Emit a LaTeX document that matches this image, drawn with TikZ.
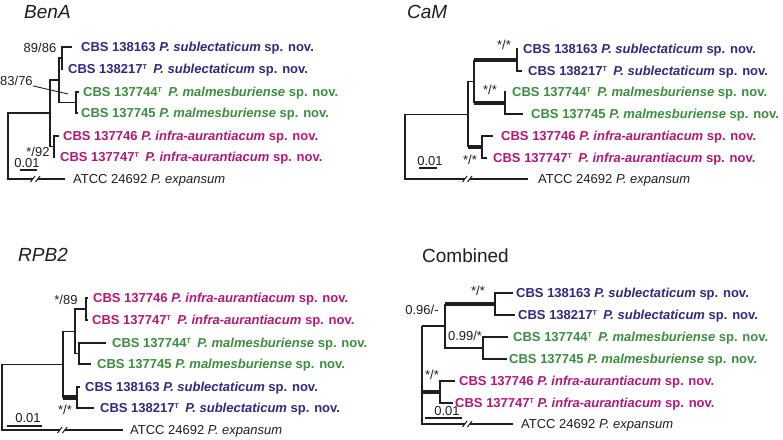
\documentclass[tikz,border=0pt]{standalone}
\usepackage{fontspec}
\setmainfont{Liberation Sans}
\definecolor{cb}{RGB}{45,42,128}
\definecolor{cg}{RGB}{58,142,62}
\definecolor{cm}{RGB}{178,24,120}
\definecolor{ln}{RGB}{30,30,30}
\newcommand\Ts{\raisebox{4pt}{\fontsize{7}{7}\selectfont T}}
\newcommand\sbl{\textit{P. sublectaticum} sp. nov.}
\newcommand\mlm{\textit{P. malmesburiense} sp. nov.}
\newcommand\ifr{\textit{P. infra-aurantiacum} sp. nov.}
\newcommand\atcc{ATCC 24692 \textit{P. expansum}}
\begin{document}
\begin{tikzpicture}[x=1pt,y=-1pt,
  br/.style={line width=1.3pt,draw=ln},
  thk/.style={line width=4.2pt,draw=ln},
  lab/.style={anchor=west,inner sep=0pt,text height=9.4pt,text depth=0pt,font=\bfseries\fontsize{13}{15}\selectfont},
  sbc/.style={lab,text=cb}, mlc/.style={lab,text=cg}, ifc/.style={lab,text=cm},
  ogl/.style={anchor=west,inner sep=0pt,text height=9.4pt,text depth=0pt,font=\fontsize{13}{15}\selectfont,text=ln},
  supp/.style={inner sep=0pt,text height=9.4pt,text depth=0pt,font=\fontsize{13}{15}\selectfont,text=ln},
  ttl/.style={anchor=west,inner sep=0pt,text height=13.6pt,text depth=0pt,font=\fontsize{19}{21}\selectfont,text=ln},
  brk/.style={line width=1pt,draw=ln}]
\useasboundingbox (0,0) rectangle (783,439);

% ================= BenA =================
\node[ttl] (tA) at (24,11.5) {\textit{BenA}};
\coordinate (aR) at (8,146);
\coordinate (aA) at (50,113);
\coordinate (aB) at (59,80);
\coordinate (aC) at (54,146.5);
\coordinate (aD) at (62,58);
\coordinate (aE) at (76,102.5);
\coordinate (a1) at (72,47);
\coordinate (a2) at (63,69);
\coordinate (a3) at (79,92);
\coordinate (a4) at (78,113);
\coordinate (a5) at (59,136);
\coordinate (a6) at (55,157);
\coordinate (aO1) at (33,179);
\coordinate (aO2) at (38,179);
\coordinate (aOt) at (65,179);
\draw[br] (aR) |- (aA);
\draw[br] (aA) |- (aB);
\draw[br] (aA) |- (aC);
\draw[br] (aB) |- (aD);
\draw[br] (aB) |- (aE);
\draw[br] (aD) |- (a1);
\draw[br] (aD) |- (a2);
\draw[br] (aE) |- (a3);
\draw[br] (aE) |- (a4);
\draw[br] (aC) |- (a5);
\draw[br] (aC) |- (a6);
\draw[br] (aR) |- (aO1);
\draw[br] (aO2) -- (aOt);
\draw[brk] ([shift={(-2.5,3)}]aO1) -- ([shift={(2,-3)}]aO1);
\draw[brk] ([shift={(-2.5,3)}]aO2) -- ([shift={(2,-3)}]aO2);
\node[sbc] (aL1) at (81,47) {CBS 138163 \sbl};
\node[sbc] (aL2) at (68,69) {CBS 138217\Ts\hspace{0.5em}\sbl};
\node[mlc] (aL3) at (83,92) {CBS 137744\Ts\hspace{0.5em}\mlm};
\node[mlc] (aL4) at (81,113) {CBS 137745 \mlm};
\node[ifc] (aL5) at (63,136) {CBS 137746 \ifr};
\node[ifc] (aL6) at (60,157) {CBS 137747\Ts\hspace{0.5em}\ifr};
\node[ogl] (aLO) at (73,179) {\atcc};
\node[supp] (aS1) at (40,48) {89/86};
\node[supp,anchor=west] (aS2) at (0,81) {83/76};
\coordinate (aP) at (68,94);
\draw[br,line width=0.9pt] (aS2.south east) -- (aP);
\node[supp] (aS3) at (38,152) {*/92};
\node[supp] (aSc) at (27,163) {0.01};
\coordinate (aB1) at (20,170);
\coordinate (aB2) at (37,170);
\draw[br] (aB1) -- (aB2);

% ================= CaM =================
\node[ttl] (tC) at (407,11.5) {\textit{CaM}};
\coordinate (cR) at (405,146.6);
\coordinate (cA) at (468,114.2);
\coordinate (cB) at (474,81.5);
\coordinate (cC) at (482,147);
\coordinate (cD) at (517,60);
\coordinate (cE) at (505,103);
\coordinate (c1) at (518,49);
\coordinate (c2) at (522,71);
\coordinate (c3) at (506,92);
\coordinate (c4) at (523,114);
\coordinate (c5) at (493,136);
\coordinate (c6) at (487,158);
\coordinate (cO1) at (465,179);
\coordinate (cO2) at (470,179);
\coordinate (cOt) at (528,179);
\draw[br] (cR) |- (cA);
\draw[br] (cA) |- (cB);
\draw[br] (cA) -- (cA |- cC);
\draw[thk] (cA |- cC) -- (cC);
\draw[br] (cB) -- (cB |- cD);
\draw[thk] (cB |- cD) -- (cD);
\draw[br] (cB) -- (cB |- cE);
\draw[thk] (cB |- cE) -- (cE);
\draw[br] (cD) |- (c1);
\draw[br] (cD) |- (c2);
\draw[br] (cE) |- (c3);
\draw[br] (cE) |- (c4);
\draw[br] (cC) |- (c5);
\draw[br] (cC) |- (c6);
\draw[br] (cR) |- (cO1);
\draw[br] (cO2) -- (cOt);
\draw[brk] ([shift={(-2.5,3)}]cO1) -- ([shift={(2,-3)}]cO1);
\draw[brk] ([shift={(-2.5,3)}]cO2) -- ([shift={(2,-3)}]cO2);
\node[sbc] (cL1) at (523,49) {CBS 138163 \sbl};
\node[sbc] (cL2) at (528,71) {CBS 138217\Ts\hspace{0.5em}\sbl};
\node[mlc] (cL3) at (512,92) {CBS 137744\Ts\hspace{0.5em}\mlm};
\node[mlc] (cL4) at (531,114) {CBS 137745 \mlm};
\node[ifc] (cL5) at (501,136) {CBS 137746 \ifr};
\node[ifc] (cL6) at (493,158) {CBS 137747\Ts\hspace{0.5em}\ifr};
\node[ogl] (cLO) at (538,179) {\atcc};
\node[supp] (cS1) at (504,45) {*/*};
\node[supp] (cS2) at (490,90) {*/*};
\node[supp] (cS3) at (470,160) {*/*};
\node[supp] (cSc) at (430,161) {0.01};
\coordinate (cB1) at (419,168);
\coordinate (cB2) at (437,168);
\draw[br] (cB1) -- (cB2);

% ================= RPB2 =================
\node[ttl] (tR) at (18,254.5) {\textit{RPB2}};
\coordinate (rR) at (2,397.2);
\coordinate (rA) at (63,364.4);
\coordinate (rB) at (75,331.2);
\coordinate (rC) at (86,309);
\coordinate (rE) at (79,353.5);
\coordinate (rD) at (77,397.5);
\coordinate (r1) at (88,298);
\coordinate (r2) at (88,320);
\coordinate (r3) at (106,343);
\coordinate (r4) at (91,364);
\coordinate (r5) at (80,387);
\coordinate (r6) at (94,408);
\coordinate (rO1) at (60,430);
\coordinate (rO2) at (65,430);
\coordinate (rOt) at (123,430);
\draw[br] (rR) |- (rA);
\draw[br] (rA) |- (rB);
\draw[br] (rA) -- (rA |- rD);
\draw[thk] (rA |- rD) -- (rD);
\draw[br] (rB) |- (rC);
\draw[br] (rB) |- (rE);
\draw[br] (rC) |- (r1);
\draw[br] (rC) |- (r2);
\draw[br] (rE) |- (r3);
\draw[br] (rE) |- (r4);
\draw[br] (rD) |- (r5);
\draw[br] (rD) |- (r6);
\draw[br] (rR) |- (rO1);
\draw[br] (rO2) -- (rOt);
\draw[brk] ([shift={(-2.5,3)}]rO1) -- ([shift={(2,-3)}]rO1);
\draw[brk] ([shift={(-2.5,3)}]rO2) -- ([shift={(2,-3)}]rO2);
\node[ifc] (rL1) at (93,298) {CBS 137746 \ifr};
\node[ifc] (rL2) at (92,320) {CBS 137747\Ts\hspace{0.5em}\ifr};
\node[mlc] (rL3) at (112,343) {CBS 137744\Ts\hspace{0.5em}\mlm};
\node[mlc] (rL4) at (97,364) {CBS 137745 \mlm};
\node[sbc] (rL5) at (85,387) {CBS 138163 \sbl};
\node[sbc] (rL6) at (100,408) {CBS 138217\Ts\hspace{0.5em}\sbl};
\node[ogl] (rLO) at (130,430) {\atcc};
\node[supp] (rS1) at (66,300) {*/89};
\node[supp] (rS2) at (65,410) {*/*};
\node[supp] (rSc) at (28,418) {0.01};
\coordinate (rB1) at (7,426);
\coordinate (rB2) at (42,426);
\draw[br] (rB1) -- (rB2);

% ================= Combined =================
\node[ttl] (tM) at (422,255.5) {Combined};
\coordinate (mR) at (422,326);
\coordinate (mB) at (445,326);
\coordinate (mC) at (440,392);
\coordinate (mD) at (495,304);
\coordinate (mE) at (483,348);
\coordinate (m1) at (513,293);
\coordinate (m2) at (515,315);
\coordinate (m3) at (508,337);
\coordinate (m4) at (507,359);
\coordinate (m5) at (455,381);
\coordinate (m6) at (453,403);
\coordinate (mO1) at (465,424);
\coordinate (mO2) at (470,424);
\coordinate (mOt) at (513,424);
\draw[br] (mR) -- (mB);
\draw[br] (mR) -- (mR |- mC);
\draw[thk] (mR |- mC) -- (mC);
\draw[br] (mR) |- (mO1);
\draw[br] (mO2) -- (mOt);
\draw[br] (mB) -- (mB |- mD);
\draw[thk] (mB |- mD) -- (mD);
\draw[br] (mB) |- (mE);
\draw[br] (mD) |- (m1);
\draw[br] (mD) |- (m2);
\draw[br] (mE) |- (m3);
\draw[br] (mE) |- (m4);
\draw[br] (mC) |- (m5);
\draw[br] (mC) |- (m6);
\draw[brk] ([shift={(-2.5,3)}]mO1) -- ([shift={(2,-3)}]mO1);
\draw[brk] ([shift={(-2.5,3)}]mO2) -- ([shift={(2,-3)}]mO2);
\node[sbc] (mL1) at (516,293) {CBS 138163 \sbl};
\node[sbc] (mL2) at (518,315) {CBS 138217\Ts\hspace{0.5em}\sbl};
\node[mlc] (mL3) at (513,337) {CBS 137744\Ts\hspace{0.5em}\mlm};
\node[mlc] (mL4) at (509,359) {CBS 137745 \mlm};
\node[ifc] (mL5) at (459,381) {CBS 137746 \ifr};
\node[ifc] (mL6) at (455,403) {CBS 137747\Ts\ \ifr};
\node[ogl] (mLO) at (521,424) {\atcc};
\node[supp] (mS1) at (478,291) {*/*};
\node[supp] (mS2) at (422,310) {0.96/-};
\node[supp] (mS3) at (465,336) {0.99/*};
\node[supp] (mS4) at (432,375) {*/*};
\node[supp] (mSc) at (447,411) {0.01};
\coordinate (mB1) at (425,418);
\coordinate (mB2) at (462,418);
\draw[br] (mB1) -- (mB2);
\end{tikzpicture}
\end{document}
